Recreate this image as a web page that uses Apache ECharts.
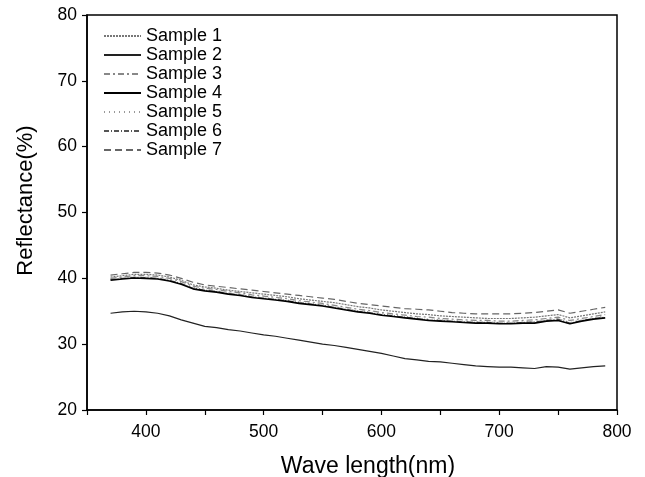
<!DOCTYPE html>
<html>
<head>
<meta charset="utf-8">
<script src="https://cdn.jsdelivr.net/npm/echarts@6/dist/echarts.min.js"></script>
<style>html,body{margin:0;padding:0;background:#fff}#c{width:645px;height:477px}</style>
</head>
<body>
<div id="c"></div>
<script>
const wavelengths = [370,380,390,400,410,420,430,440,450,460,470,480,490,500,510,520,530,540,550,560,570,580,590,600,610,620,630,640,650,660,670,680,690,700,710,720,730,740,750,760,770,780,790];
const sample1 = [40.2,40.4,40.6,40.6,40.5,40.2,39.7,39.0,38.7,38.5,38.2,38.0,37.8,37.6,37.4,37.2,36.9,36.7,36.5,36.3,36.0,35.7,35.5,35.2,35.0,34.8,34.6,34.5,34.3,34.2,34.1,34.0,33.9,33.9,33.9,34.0,34.1,34.3,34.5,34.0,34.3,34.6,34.9];
const sample2 = [34.7,34.9,35.0,34.9,34.7,34.3,33.7,33.2,32.7,32.5,32.2,32.0,31.7,31.4,31.2,30.9,30.6,30.3,30.0,29.8,29.5,29.2,28.9,28.6,28.2,27.8,27.6,27.4,27.3,27.1,26.9,26.7,26.6,26.5,26.5,26.4,26.3,26.6,26.5,26.2,26.4,26.6,26.7];
const sample3 = [40.0,40.2,40.4,40.4,40.3,40.0,39.5,38.8,38.5,38.3,38.0,37.8,37.5,37.3,37.1,36.9,36.6,36.4,36.2,35.9,35.6,35.3,35.1,34.8,34.6,34.4,34.2,34.1,33.9,33.8,33.7,33.6,33.6,33.5,33.5,33.6,33.7,33.9,34.1,33.6,33.9,34.2,34.5];
const sample4 = [39.7,39.9,40.05,40.0,39.9,39.6,39.1,38.4,38.1,37.9,37.6,37.4,37.1,36.9,36.7,36.5,36.2,36.0,35.8,35.5,35.2,34.9,34.7,34.4,34.2,34.0,33.8,33.6,33.5,33.4,33.3,33.2,33.2,33.1,33.1,33.2,33.2,33.5,33.6,33.1,33.5,33.8,34.0];
const sample5 = [39.9,40.1,40.2,40.2,40.1,39.8,39.3,38.6,38.3,38.1,37.8,37.6,37.3,37.1,36.9,36.7,36.4,36.2,36.0,35.7,35.4,35.1,34.9,34.6,34.4,34.2,34.0,33.8,33.7,33.6,33.5,33.4,33.4,33.3,33.3,33.4,33.5,33.7,33.9,33.3,33.7,34.0,34.3];
const sample6 = [39.8,40.0,40.15,40.1,40.0,39.7,39.2,38.5,38.2,38.0,37.7,37.5,37.2,37.0,36.8,36.6,36.3,36.1,35.9,35.6,35.3,35.0,34.8,34.5,34.3,34.1,33.9,33.7,33.6,33.5,33.4,33.3,33.3,33.2,33.2,33.3,33.4,33.6,33.8,33.2,33.6,33.9,34.1];
const sample7 = [40.5,40.7,40.9,40.9,40.8,40.5,40.0,39.4,39.0,38.8,38.6,38.4,38.2,38.0,37.8,37.6,37.4,37.2,37.0,36.8,36.5,36.2,36.0,35.8,35.6,35.4,35.3,35.2,35.0,34.8,34.7,34.6,34.6,34.6,34.6,34.7,34.8,35.0,35.2,34.7,35.0,35.3,35.6];
const seriesNames = ['Sample 1','Sample 2','Sample 3','Sample 4','Sample 5','Sample 6','Sample 7'];
const xTickLabels = ['400','500','600','700','800'];
const yTickLabels = ['20','30','40','50','60','70','80'];

const dataSets = [sample1,sample2,sample3,sample4,sample5,sample6,sample7];
const styles = [
  {color:'#777', type:[2,1], width:1.2},
  {color:'#222', type:'solid', width:1.2},
  {color:'#888', type:[6,3,2,3], width:1.2},
  {color:'#000', type:'solid', width:1.6},
  {color:'#999', type:[1,4], width:1.2},
  {color:'#555', type:[5,2,1,2], width:1.2},
  {color:'#666', type:[7,4], width:1.2}
];
const FONT = '"Liberation Sans", Arial, sans-serif';
const chart = echarts.init(document.getElementById('c'), null, {renderer:'canvas'});
chart.setOption({
  animation:false,
  backgroundColor:'#fff',
  grid:{left:87, right:28, top:15, bottom:67, outerBoundsMode:'none', containLabel:false, show:true, borderColor:'#000', borderWidth:1.5, backgroundColor:'transparent'},
  legend:{
    orient:'vertical', left:98, top:27, itemWidth:37, itemHeight:14, itemGap:1, padding:[0,0,0,5],
    itemStyle:{opacity:0},
    textStyle:{fontFamily:FONT, fontSize:18, color:'#000', lineHeight:17},
    data:seriesNames
  },
  xAxis:{
    type:'value', min:350, max:800, interval:50,
    name:'Wave length(nm)', nameLocation:'middle', nameGap:45,
    nameTextStyle:{fontFamily:FONT, fontSize:23, color:'#000', padding:[0,0,0,32]},
    axisLine:{onZero:false, lineStyle:{color:'#000', width:1.5}},
    axisTick:{length:5, lineStyle:{color:'#000', width:1.2}},
    axisLabel:{fontFamily:FONT, fontSize:17.5, color:'#000', margin:13,
      formatter:function(v){ const s=String(v); return xTickLabels.indexOf(s)>=0 ? s : ''; }},
    splitLine:{show:false}
  },
  yAxis:{
    type:'value', min:20, max:80, interval:10,
    name:'Reflectance(%)', nameLocation:'middle', nameGap:50, nameRotate:90,
    nameTextStyle:{fontFamily:FONT, fontSize:22, color:'#000', padding:[0,0,0,24]},
    axisLine:{onZero:false, lineStyle:{color:'#000', width:1.5}},
    axisTick:{length:5, lineStyle:{color:'#000', width:1.2}},
    axisLabel:{fontFamily:FONT, fontSize:17.5, color:'#000', margin:10,
      formatter:function(v){ const s=String(v); return yTickLabels.indexOf(s)>=0 ? s : ''; }},
    splitLine:{show:false}
  },
  series: seriesNames.map(function(n,i){
    return {
      name:n, type:'line', symbol:'none', z: (i===3?5:3),
      data: wavelengths.map(function(w,j){ return [w, dataSets[i][j]]; }),
      lineStyle: styles[i], itemStyle:{color:styles[i].color}
    };
  })
});
</script>
</body>
</html>
